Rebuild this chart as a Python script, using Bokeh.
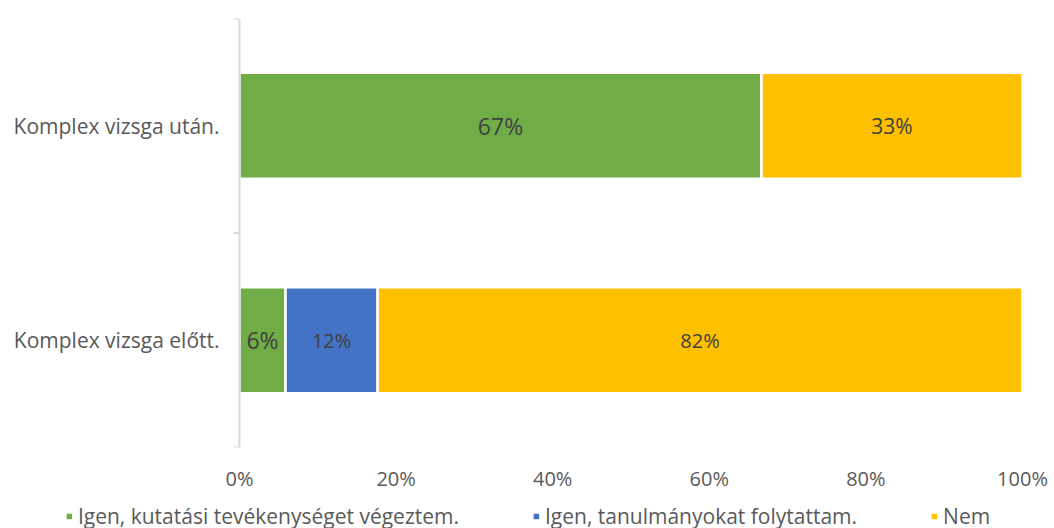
import math
from bokeh.plotting import figure
from bokeh.layouts import column
from bokeh.models import ColumnDataSource, Range1d, FixedTicker, PrintfTickFormatter, Legend, Span
from bokeh.core.properties import value
from bokeh.embed import file_html
from bokeh.resources import INLINE

# ---- data ----
categories = ["Komplex vizsga előtt.", "Komplex vizsga után."]
series_names = ["Igen, kutatási tevékenységet végeztem.", "Igen, tanulmányokat folytattam.", "Nem"]
kutatas = [5.88, 66.67]
tanulmany = [11.76, 0.0]
nem = [82.35, 33.33]
x_ticks = [0, 20, 40, 60, 80, 100]

colors = ["#70AD47", "#4472C4", "#FFC000"]
FONT = "Open Sans"
AXIS_GREY = "#D9D9D9"
TEXT_GREY = "#595959"

# layout (pixels): plot area from x=239 to x=1022 inside a 1054 px wide frame
TOTAL_W, AREA_L, AREA_W = 1054, 239, 783
x_start = -AREA_L / AREA_W * 100
x_end = 100 + (TOTAL_W - AREA_L - AREA_W) / AREA_W * 100

ypos = [i + 0.5 for i in range(len(categories))]
bounds = [float(i) for i in range(len(categories) + 1)]
src = ColumnDataSource(dict(y=ypos, s0=kutatas, s1=tanulmany, s2=nem))

p = figure(frame_width=TOTAL_W, frame_height=429, output_backend="svg", toolbar_location=None,
           x_range=Range1d(x_start, x_end), y_range=Range1d(0, len(categories)),
           y_axis_location=None,
           min_border_left=0, min_border_right=0, min_border_top=18, min_border_bottom=44)
p.outline_line_color = None
p.xgrid.visible = False
p.ygrid.visible = False

rends = p.hbar_stack(["s0", "s1", "s2"], y="y", height=0.495, source=src, color=colors,
                     line_color="white", line_width=2.5)

# category axis: line, boundary ticks and labels
p.add_layout(Span(location=0, dimension="height", line_color=AXIS_GREY, line_width=2))
p.ray(x=[0] * len(bounds), y=bounds, length=6, length_units="screen", angle=math.pi,
      line_color=AXIS_GREY, line_width=2)
p.text(x=[0] * len(categories), y=ypos, text=categories, x_offset=-20,
       text_align="right", text_baseline="middle",
       text_font=value(FONT), text_font_size="21px", text_color=TEXT_GREY)

# data labels
series = [kutatas, tanulmany, nem]
label_sizes = [["23px", "23px"], ["20px", "20px"], ["20px", "21px"]]
lx, ly, lt, ls = [], [], [], []
for ci in range(len(categories)):
    left = 0.0
    for si, vals in enumerate(series):
        v = vals[ci]
        if v > 0:
            lx.append(left + v / 2)
            ly.append(ypos[ci])
            lt.append(f"{round(v)}%")
            ls.append(label_sizes[si][ci])
        left += v
lsrc = ColumnDataSource(dict(x=lx, y=ly, t=lt, s=ls))
p.text(x="x", y="y", text="t", source=lsrc, text_align="center", text_baseline="middle",
       text_font=value(FONT), text_font_size="s", text_color="#404040")

# x axis
xa = p.xaxis[0]
xa.ticker = FixedTicker(ticks=x_ticks)
xa.formatter = PrintfTickFormatter(format="%d%%")
xa.axis_line_color = None
xa.major_tick_line_color = None
xa.minor_tick_line_color = None
xa.major_tick_out = 0
xa.major_tick_in = 0
xa.major_label_standoff = 17
xa.major_label_text_font = FONT
xa.major_label_text_font_size = "20px"
xa.major_label_text_color = TEXT_GREY

# legend strip (full width) below the chart
p2 = figure(width=TOTAL_W, height=36, output_backend="svg", toolbar_location=None,
            x_range=Range1d(0, 100), y_range=Range1d(0, 1),
            x_axis_location=None, y_axis_location=None,
            min_border_left=0, min_border_right=0, min_border_top=0, min_border_bottom=0)
p2.outline_line_color = None
p2.xgrid.visible = False
p2.ygrid.visible = False
lrends = p2.hbar_stack(["s0", "s1", "s2"], y="y", height=0.495, source=src, color=colors,
                       line_color="white", line_width=2.5, visible=False)

legend = Legend(items=[(series_names[i], [lrends[i]]) for i in range(len(series_names))],
                orientation="horizontal", location="bottom_center")
legend.border_line_color = None
legend.background_fill_alpha = 0
legend.label_text_font = FONT
legend.label_text_font_size = "21px"
legend.label_text_color = TEXT_GREY
legend.glyph_width = 10
legend.glyph_height = 10
legend.label_standoff = 4
legend.spacing = 72
legend.padding = 0
legend.margin = 0
p2.add_layout(legend)

layout = column(p, p2, spacing=0)
open("out.html", "w").write(file_html(layout, INLINE))
